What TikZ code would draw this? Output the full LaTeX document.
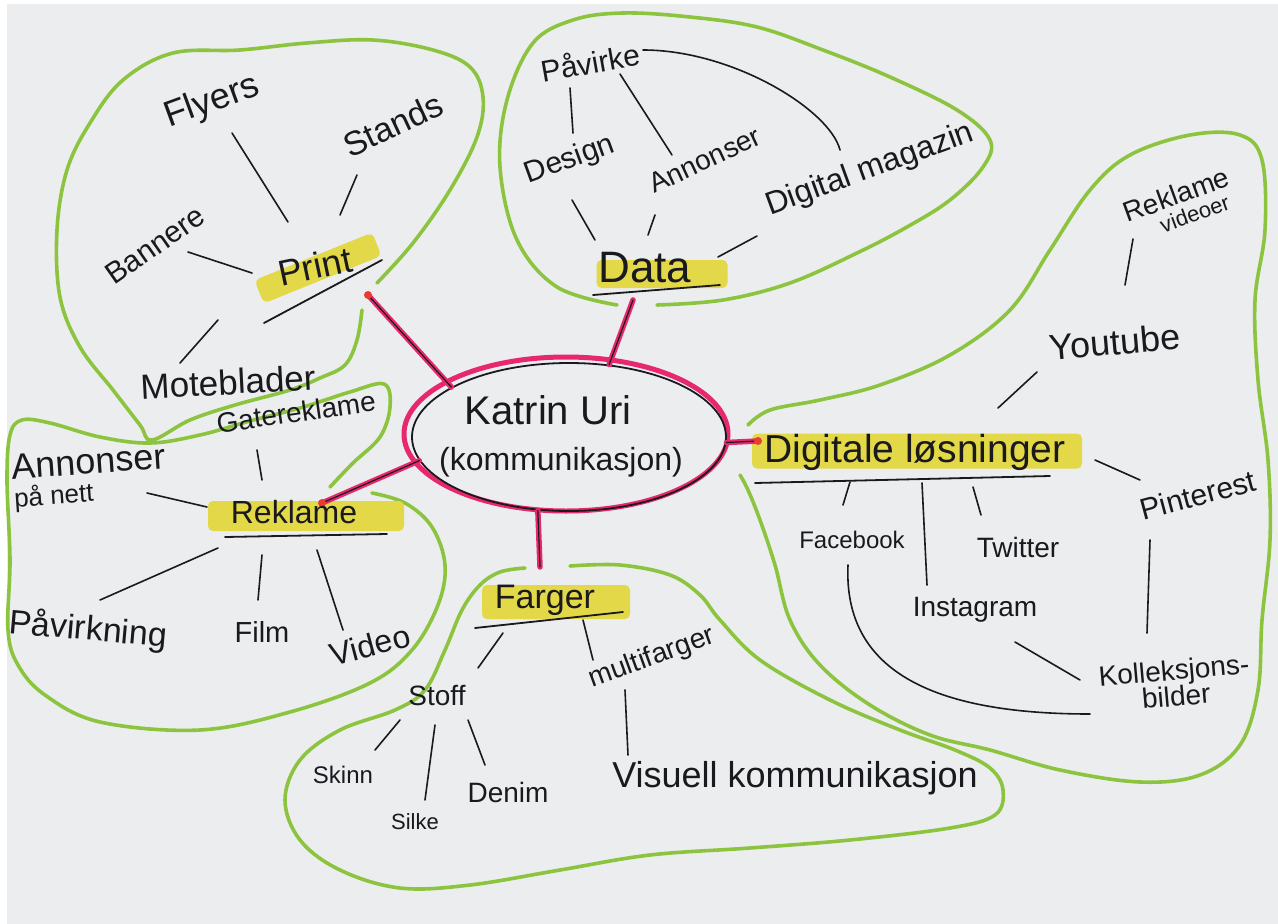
\documentclass[tikz,border=0pt]{standalone}
\usepackage{fontspec}
\setmainfont{Liberation Sans}
\usetikzlibrary{calc,shapes.geometric}
\definecolor{paper}{RGB}{236,237,239}
\definecolor{mgreen}{RGB}{140,196,63}
\definecolor{hl}{RGB}{226,216,72}
\definecolor{mpink}{RGB}{232,40,110}
\definecolor{ink}{RGB}{25,25,30}
\definecolor{reddot}{RGB}{235,60,50}
\begin{document}
\begin{tikzpicture}[x=1pt,y=-1pt,
  txt/.style={font=\fontsize{#1}{#1}\selectfont, text=ink, inner sep=1pt},
  hlbox/.style={fill=hl, inner sep=0pt, rounded corners=5pt},
  ln/.style={draw=ink, line width=1.6pt, line cap=round},
  ul/.style={draw=ink, line width=1.8pt, line cap=round},
  blob/.style={draw=mgreen, line width=3.6pt, line cap=round, line join=round},
  arm/.style={draw=mpink, line width=5.5pt, line cap=round},
  armink/.style={draw=ink, line width=1.2pt, line cap=round},
]
\fill[white] (0,0) rectangle (1278,924);
\fill[paper] (7,4) rectangle (1278,924);
\useasboundingbox (0,0) rectangle (1278,924);

% ---------- green cluster outlines ----------
\draw[blob] plot[smooth, tension=0.6] coordinates {(377,283) (413,243) (450,190) (477,137) (483,97) (470,67) (433,50) (373,40) (307,43) (240,50) (173,53) (123,80) (90,123) (67,170) (57,230) (60,297) (80,347) (113,390) (140,425) (152,440) (190,420) (235,405) (290,390) (320,378) (345,365) (357,340) (362,310)};
\draw[blob] plot[smooth, tension=0.6] coordinates {(330,487) (353,463) (380,437) (390,407) (384,384) (350,392) (300,408) (250,421) (200,435) (150,443) (100,437) (50,423) (22,420) (10,435) (7,480) (10,560) (8,630) (18,665) (45,695) (100,722) (200,730) (290,712) (370,683) (412,650) (438,605) (445,565) (432,527) (405,503) (372,493)};
\draw[blob] plot[smooth, tension=0.6] coordinates {(617,305) (557,287) (517,240) (500,167) (507,100) (533,43) (573,20) (623,13) (690,17) (757,27) (823,50) (890,77) (957,110) (990,140) (983,167) (950,200) (907,227) (857,253) (790,283) (723,300) (657,305)};
\draw[blob] plot[smooth, tension=0.6] coordinates {(748,425) (770,410) (820,400) (880,385) (950,355) (1010,310) (1050,250) (1090,190) (1130,155) (1190,135) (1240,135) (1262,160) (1265,230) (1255,300) (1258,380) (1268,460) (1270,540) (1262,620) (1258,690) (1240,745) (1200,775) (1140,782) (1060,770) (990,750) (930,735) (870,705) (820,665) (790,620) (775,565) (760,520) (748,490) (740,475)};
\draw[blob] plot[smooth, tension=0.6] coordinates {(525,568) (500,572) (480,585) (462,610) (445,650) (425,690) (395,710) (340,730) (300,760) (285,800) (300,840) (340,870) (400,888) (470,885) (560,870) (650,855) (750,848) (850,840) (950,828) (995,815) (1003,790) (990,768) (955,750) (900,730) (830,700) (760,660) (720,620) (700,595) (670,575) (620,565) (570,566)};

% ---------- highlights ----------
\node[hlbox, rotate=22, minimum width=127pt, minimum height=25pt] (printhl) at (318,268) {};
\node[hlbox, minimum width=131pt, minimum height=28pt] (datahl) at (662,274) {};
\node[hlbox, minimum width=330pt, minimum height=35pt] (digihl) at (917,451) {};
\node[hlbox, minimum width=196pt, minimum height=30pt] (reklhl) at (306,516) {};
\node[hlbox, minimum width=148pt, minimum height=34pt] (fargerhl) at (556,602) {};

% ---------- central node ----------
\draw[mpink, line width=5pt] (566,434) ellipse [x radius=162pt, y radius=77pt];
\node[ellipse, draw=ink, line width=1.8pt, minimum width=314pt, minimum height=148pt, inner sep=0pt] (hub) at (569,437) {};
\node[txt=40] (title) at (548,410) {Katrin Uri};
\node[txt=32] (subtitle) at (561,462) {(kommunikasjon)};

% ---------- pink arms ----------
\coordinate (printdot) at (368,295);
\coordinate (datadot) at (633,300);
\coordinate (digidot) at (758,441);
\coordinate (rekldot) at (322,503);
\coordinate (fargerdot) at (540,567);
\draw[arm] (printdot) -- (hub.157);
\draw[arm] (datadot) -- (hub.61);
\draw[arm] (digidot) -- (hub.-2);
\draw[arm] (rekldot) -- (hub.-171);
\draw[arm] (fargerdot) -- (hub.-113);
\draw[armink] (printdot) -- (hub.157);
\draw[armink] (datadot) -- (hub.61);
\draw[armink] (digidot) -- (hub.-2);
\draw[armink] (rekldot) -- (hub.-171);
\draw[armink] (fargerdot) -- (hub.-113);
\fill[reddot] (printdot) circle[radius=4pt];
\fill[reddot] (digidot) circle[radius=4pt];
\fill[reddot] (rekldot) circle[radius=4pt];

% ---------- main topics ----------
\node[txt=36, rotate=12] (print) at (315,266) {Print};
\node[txt=44] (data) at (645,268) {Data};
\node[txt=39] (digi) at (915,452) {Digitale løsninger};
\node[txt=32] (rekl) at (294,512) {Reklame};
\node[txt=34] (farger) at (545,600) {Farger};
\draw[ul] ($(print)+(-51,57)$) -- ($(print)+(67,-6)$);
\draw[ul] ($(data)+(-52,27)$) -- ($(data)+(75,17)$);
\draw[ul] ($(digi)+(-160,31)$) -- ($(digi)+(135,24)$);
\draw[ul] ($(rekl)+(-69,25)$) -- ($(rekl)+(93,22)$);
\draw[ul] ($(farger)+(-70,28)$) -- ($(farger)+(78,12)$);

% ---------- Print cluster ----------
\node[txt=36, rotate=20] (flyers) at (212,102) {Flyers};
\node[txt=34, rotate=25] (stands) at (393,125) {Stands};
\node[txt=30, rotate=35] (bannere) at (155,245) {Bannere};
\node[txt=35, rotate=3] (mote) at (228,382) {Moteblader};
\draw[ln] ($(print)+(-27,-44)$) -- ($(flyers)+(20,31)$);
\draw[ln] ($(print)+(25,-51)$) -- ($(stands)+(-36,50)$);
\draw[ln] ($(print)+(-63,7)$) -- ($(bannere)+(33,7)$);
\draw[ln] ($(print)+(-97,54)$) -- ($(mote)+(-48,-19)$);

% ---------- Data cluster ----------
\node[txt=30, rotate=10] (pavirke) at (590,62) {Påvirke};
\node[txt=30, rotate=20] (design) at (570,160) {Design};
\node[txt=28, rotate=25] (annonser) at (705,160) {Annonser};
\node[txt=32, rotate=20] (digmag) at (870,170) {Digital magazin};
\draw[ln] ($(pavirke)+(-20,26)$) -- ($(design)+(3,-27)$);
\draw[ln] ($(pavirke)+(30,12)$) -- ($(annonser)+(-33,-5)$);
\draw[ln] ($(pavirke)+(53,-12)$) .. controls +(90,0) and +(-10,-40) .. ($(digmag)+(-30,-20)$);
\draw[ln] ($(design)+(2,40)$) -- ($(data)+(-50,-28)$);
\draw[ln] ($(annonser)+(-50,55)$) -- ($(data)+(3,-33)$);
\draw[ln] ($(data)+(73,-11)$) -- ($(digmag)+(-113,66)$);

% ---------- Digitale loesninger cluster ----------
\node[txt=36, rotate=5] (youtube) at (1115,342) {Youtube};
\node[txt=28, rotate=20, align=left] (reklvid) at (1180,205) {Reklame\\[-6pt]\hspace*{30pt}{\fontsize{22}{22}\selectfont videoer}};
\node[txt=30, rotate=15] (pinterest) at (1198,495) {Pinterest};
\node[txt=24] (facebook) at (852,540) {Facebook};
\node[txt=28] (twitter) at (1018,547) {Twitter};
\node[txt=28] (instagram) at (975,610) {Instagram};
\node[txt=28, rotate=5, align=center] (koll) at (1175,683) {Kolleksjons-\\[-2pt]bilder};
\draw[ln] ($(digi)+(83,-44)$) -- ($(youtube)+(-78,30)$);
\draw[ln] ($(youtube)+(10,-57)$) -- ($(reklvid)+(-47,34)$);
\draw[ln] ($(digi)+(180,8)$) -- ($(pinterest)+(-58,-15)$);
\draw[ln] ($(digi)+(-65,30)$) -- ($(facebook)+(-9,-35)$);
\draw[ln] ($(digi)+(7,31)$) -- ($(instagram)+(-48,-25)$);
\draw[ln] ($(digi)+(58,35)$) -- ($(twitter)+(-37,-32)$);
\draw[ln] ($(pinterest)+(-48,45)$) -- ($(koll)+(-28,-50)$);
\draw[ln] ($(instagram)+(40,32)$) -- ($(koll)+(-95,-3)$);
\draw[ln] ($(facebook)+(-4,25)$) .. controls +(-5,110) and +(-150,0) .. ($(koll)+(-85,31)$);

% ---------- Reklame cluster ----------
\node[txt=28, rotate=8] (gate) at (296,412) {Gatereklame};
\node[txt=36, rotate=4, align=left] (annnett) at (90,478) {Annonser\\[-8pt]{\fontsize{26}{26}\selectfont på nett}};
\node[txt=34, rotate=-5] (pavirkning) at (88,630) {Påvirkning};
\node[txt=29] (film) at (262,632) {Film};
\node[txt=32, rotate=15] (video) at (370,645) {Video};
\draw[ln] ($(rekl)+(-32,-32)$) -- ($(gate)+(-39,38)$);
\draw[ln] ($(rekl)+(-87,-5)$) -- ($(annnett)+(57,15)$);
\draw[ln] ($(rekl)+(-76,36)$) -- ($(pavirkning)+(12,-30)$);
\draw[ln] ($(rekl)+(-32,43)$) -- ($(film)+(-4,-32)$);
\draw[ln] ($(rekl)+(23,38)$) -- ($(video)+(-27,-15)$);

% ---------- Farger cluster ----------
\node[txt=28] (stoff) at (437,695) {Stoff};
\node[txt=28, rotate=20] (multi) at (652,658) {multifarger};
\node[txt=24] (skinn) at (343,775) {Skinn};
\node[txt=22] (silke) at (415,822) {Silke};
\node[txt=28] (denim) at (508,792) {Denim};
\node[txt=36] (visuell) at (795,778) {Visuell kommunikasjon};
\draw[ln] ($(farger)+(-42,33)$) -- ($(stoff)+(41,-27)$);
\draw[ln] ($(farger)+(38,20)$) -- ($(multi)+(-59,2)$);
\draw[ln] ($(stoff)+(-37,25)$) -- ($(skinn)+(32,-25)$);
\draw[ln] ($(stoff)+(-2,30)$) -- ($(silke)+(10,-22)$);
\draw[ln] ($(stoff)+(31,25)$) -- ($(denim)+(-23,-27)$);
\draw[ln] ($(multi)+(-27,32)$) -- ($(visuell)+(-167,-23)$);
\end{tikzpicture}
\end{document}
